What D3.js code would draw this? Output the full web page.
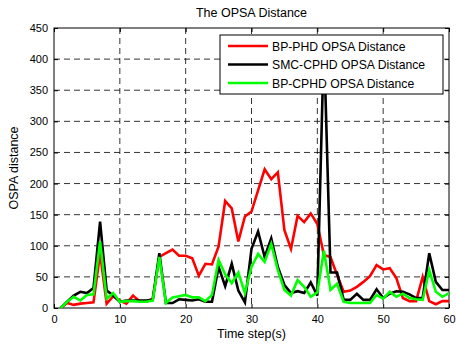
<!DOCTYPE html>
<html>
<head>
<meta charset="utf-8">
<title>The OPSA Distance</title>
<script src="https://d3js.org/d3.v7.min.js"></script>
<style>
  body { margin: 0; background: #fff; }
  text { font-family: "Liberation Sans", Arial, sans-serif; fill: #000; }
</style>
</head>
<body>
<div id="chart"></div>
<script>

// time steps and the three OSPA curves
var steps = [1,2,3,4,5,6,7,8,9,10,11,12,13,14,15,16,17,18,19,20,
             21,22,23,24,25,26,27,28,29,30,31,32,33,34,35,36,37,38,39,40,
             41,42,43,44,45,46,47,48,49,50,51,52,53,54,55,56,57,58,59,60];

var bpPhd = [0,8,5,7,8,9,88,7,19,12,7,20,11,10,15,82,88,94,84,84,
             80,52,71,70,99,172,160,107,147,155,189,223,207,218,125,95,148,138,152,135,
             85,82,53,26,28,34,42,51,69,62,64,48,16,11,11,50,11,6,11,11];

var smcCphd = [0,10,20,26,24,32,139,28,20,10,12,12,12,12,13,88,8,8,14,13,
               12,14,10,10,66,35,71,28,9,95,123,82,112,66,37,24,27,24,41,20,
               430,57,57,13,13,23,13,13,30,16,23,27,26,22,16,16,88,42,29,29];

var bpCphd = [0,10,18,12,21,22,107,15,24,10,11,11,10,10,12,82,8,17,19,21,
              17,17,11,21,77,54,40,57,24,66,87,74,103,61,29,20,45,34,18,25,
              92,29,39,10,8,8,8,8,21,15,26,18,23,16,14,13,61,26,18,24];

var xTicks = [0,10,20,30,40,50,60];
var yTicks = [0,50,100,150,200,250,300,350,400,450];

var seriesNames = ["BP-PHD OPSA Distance", "SMC-CPHD OPSA Distance", "BP-CPHD OPSA Distance"];
var seriesColors = ["#ff0000", "#000000", "#00ff00"];

var W = 456, H = 345;
// plot box (window.top is reserved, so keep these in an object)
var box = {l: 54, r: 449, t: 28, b: 308};

var svg = d3.select("#chart").append("svg")
    .attr("width", W).attr("height", H);

var x = d3.scaleLinear().domain([0, 60]).range([box.l, box.r]);
var y = d3.scaleLinear().domain([0, 450]).range([box.b, box.t]);

svg.append("defs").append("clipPath").attr("id", "clip")
  .append("rect").attr("x", box.l).attr("y", box.t)
  .attr("width", box.r - box.l).attr("height", box.b - box.t);

// dashed grid
var grid = svg.append("g");
grid.selectAll(".gx").data(xTicks.slice(1, -1)).enter().append("line")
    .attr("x1", d => x(d)).attr("x2", d => x(d))
    .attr("y1", box.t).attr("y2", box.b)
    .attr("stroke", "#000").attr("stroke-width", 0.8)
    .attr("stroke-dasharray", "6,4");
grid.selectAll(".gy").data(yTicks.slice(1, -1)).enter().append("line")
    .attr("y1", d => y(d)).attr("y2", d => y(d))
    .attr("x1", box.l).attr("x2", box.r)
    .attr("stroke", "#000").attr("stroke-width", 0.8)
    .attr("stroke-dasharray", "6,4");

// axes, ticks pointing inward on all four sides
var xAx = svg.append("g").attr("transform", "translate(0," + box.b + ")")
    .call(d3.axisBottom(x).tickValues(xTicks).tickSizeInner(-4).tickSizeOuter(0).tickPadding(7));
var xTop = svg.append("g").attr("transform", "translate(0," + box.t + ")")
    .call(d3.axisTop(x).tickValues(xTicks).tickSizeInner(-4).tickSizeOuter(0).tickFormat(""));
var yAx = svg.append("g").attr("transform", "translate(" + box.l + ",0)")
    .call(d3.axisLeft(y).tickValues(yTicks).tickSizeInner(-4).tickSizeOuter(0).tickPadding(6));
var yRight = svg.append("g").attr("transform", "translate(" + box.r + ",0)")
    .call(d3.axisRight(y).tickValues(yTicks).tickSizeInner(-4).tickSizeOuter(0).tickFormat(""));

[xAx, xTop, yAx, yRight].forEach(function(g) {
  g.select(".domain").remove();
  g.selectAll("line").attr("stroke", "#000");
  g.selectAll("text").attr("font-size", 11).attr("font-family", "Liberation Sans, Arial, sans-serif");
});

svg.append("rect").attr("x", box.l).attr("y", box.t)
    .attr("width", box.r - box.l).attr("height", box.b - box.t)
    .attr("fill", "none").attr("stroke", "#000").attr("stroke-width", 1);

// curves
var line = d3.line()
    .x(function(d, i) { return x(steps[i]); })
    .y(function(d) { return y(d); });

var curves = svg.append("g").attr("clip-path", "url(#clip)");
[bpPhd, smcCphd, bpCphd].forEach(function(vals, k) {
  curves.append("path").datum(vals)
    .attr("d", line)
    .attr("fill", "none")
    .attr("stroke", seriesColors[k])
    .attr("stroke-width", 2.6)
    .attr("stroke-linejoin", "miter");
});

// legend
var lg = svg.append("g");
lg.append("rect").attr("x", 220).attr("y", 35).attr("width", 223).attr("height", 59)
    .attr("fill", "#fff").attr("stroke", "#000").attr("stroke-width", 1);
seriesNames.forEach(function(name, k) {
  var ly = 46 + k * 18.5;
  lg.append("line").attr("x1", 228).attr("x2", 268).attr("y1", ly).attr("y2", ly)
    .attr("stroke", seriesColors[k]).attr("stroke-width", 2.6);
  lg.append("text").attr("x", 272).attr("y", ly + 4.5)
    .attr("font-size", 12.2).text(name);
});

// title and labels
svg.append("text").attr("x", (box.l + box.r) / 2).attr("y", 17)
    .attr("text-anchor", "middle").attr("font-size", 12.5).text("The OPSA Distance");
svg.append("text").attr("x", (box.l + box.r) / 2).attr("y", 338)
    .attr("text-anchor", "middle").attr("font-size", 12.5).text("Time step(s)");
svg.append("text")
    .attr("transform", "translate(18," + ((box.t + box.b) / 2) + ") rotate(-90)")
    .attr("text-anchor", "middle").attr("font-size", 12.5).text("OSPA distance");

</script>
</body>
</html>
